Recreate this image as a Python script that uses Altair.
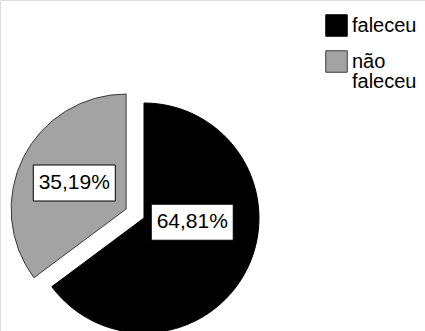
import altair as alt
import pandas as pd

categories = ["faleceu", "não faleceu"]
values = [64.81, 35.19]
labels = ["64,81%", "35,19%"]
order = [0, 1]

df = pd.DataFrame({"category": categories, "value": values, "label": labels, "order": order})

CX, CY, R = 144, 218, 115
FILLS = ["#000000", "#a3a3a3"]
STROKES = ["#000000", "#3a3a3a"]

base = (
    alt.Chart(df)
    .transform_window(cum="sum(value)", sort=[alt.SortField("order")], frame=[None, 0])
    .transform_joinaggregate(total="sum(value)")
    .transform_calculate(start="(datum.cum - datum.value) / datum.total * 2 * PI")
    .transform_calculate(end="datum.cum / datum.total * 2 * PI")
    .transform_calculate(mid="(datum.start + datum.end) / 2")
    .transform_calculate(explode="datum.category == 'não faleceu' ? 20 : 0")
    .transform_calculate(cx=f"{CX} + datum.explode * sin(datum.mid)")
    .transform_calculate(cy=f"{CY} - datum.explode * cos(datum.mid)")
    .transform_calculate(lr="datum.category == 'não faleceu' ? 58 : 54")
    .transform_calculate(ldy="datum.category == 'não faleceu' ? 0 : -20")
    .transform_calculate(lx="datum.cx + datum.lr * sin(datum.mid)")
    .transform_calculate(ly="datum.cy - datum.lr * cos(datum.mid) + datum.ldy")
    .transform_calculate(bx1="datum.lx - 41", bx2="datum.lx + 41")
    .transform_calculate(by1="datum.ly - 18", by2="datum.ly + 18")
)

arcs = base.mark_arc(radius=R, strokeWidth=1).encode(
    x=alt.X("cx:Q", scale=None),
    y=alt.Y("cy:Q", scale=None),
    theta=alt.Theta("start:Q", scale=None, stack=False),
    theta2="end:Q",
    color=alt.Color(
        "category:N",
        scale=alt.Scale(domain=categories, range=FILLS),
        legend=alt.Legend(
            title=None,
            orient="none",
            legendX=325,
            legendY=14,
            symbolType="square",
            symbolSize=462,
            symbolStrokeColor="#333333",
            symbolStrokeWidth=1,
            labelFont="Liberation Sans",
            labelFontSize=20,
            labelColor="black",
            labelOffset=4,
            labelLimit=200,
            rowPadding=9,
            labelExpr="split(datum.label, ' ')",
        ),
    ),
    stroke=alt.Stroke("category:N", scale=alt.Scale(domain=categories, range=STROKES), legend=None),
)

boxes = base.mark_rect(fill="white", stroke="black", strokeWidth=1).encode(
    x=alt.X("bx1:Q", scale=None),
    x2="bx2:Q",
    y=alt.Y("by1:Q", scale=None),
    y2="by2:Q",
)

texts = base.mark_text(font="Liberation Sans", fontSize=21, color="black").encode(
    x=alt.X("lx:Q", scale=None),
    y=alt.Y("ly:Q", scale=None),
    text="label:N",
)

chart = (
    alt.layer(arcs, boxes, texts)
    .properties(width=425, height=331, padding=0, autosize=alt.AutoSizeParams(type="none"))
    .configure_view(stroke=None)
    .configure(background="white", style={"guide-label": {"lineHeight": 20}})
)

chart.save("out.html", embed_options={"renderer": "svg", "actions": False})
